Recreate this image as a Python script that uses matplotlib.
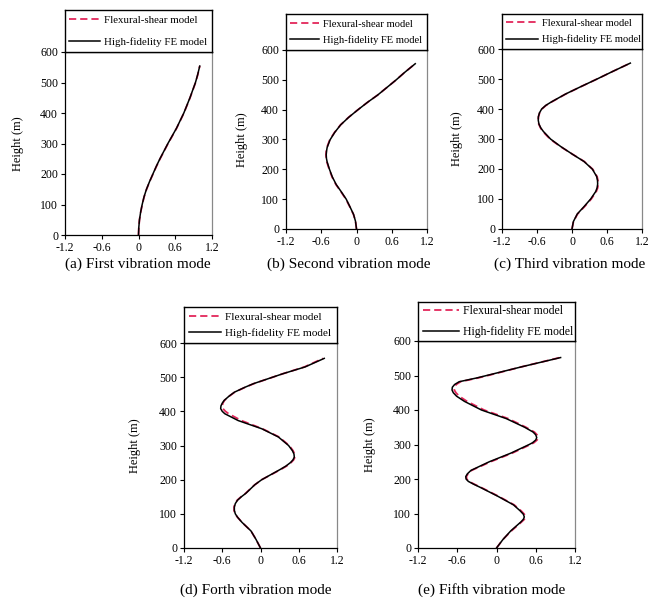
import matplotlib
matplotlib.use("Agg")
import matplotlib.pyplot as plt

plt.rcParams['font.family'] = ['Liberation Serif', 'DejaVu Serif']

# ---------------- data ----------------
x_ticks = [-1.2, -0.6, 0.0, 0.6, 1.2]
x_tick_labels = ["-1.2", "-0.6", "0", "0.6", "1.2"]
y_ticks = [0, 100, 200, 300, 400, 500, 600]
series_labels = ["Flexural-shear model", "High-fidelity FE model"]
captions = ["(a) First vibration mode", "(b) Second vibration mode",
            "(c) Third vibration mode", "(d) Forth vibration mode",
            "(e) Fifth vibration mode"]

h1 = [0, 25, 50, 75, 100, 125, 150, 175, 200, 225, 250, 275, 300, 325, 350, 375, 400, 425, 450, 475, 500, 525, 554]
fe1 = [0, 0.005, 0.016, 0.035, 0.06, 0.09, 0.13, 0.18, 0.235, 0.29, 0.35, 0.415, 0.48, 0.55, 0.62, 0.68, 0.74, 0.79, 0.84, 0.885, 0.93, 0.965, 1.0]
fs1 = [0, 0.005, 0.016, 0.036, 0.061, 0.092, 0.132, 0.182, 0.237, 0.293, 0.353, 0.418, 0.483, 0.553, 0.622, 0.682, 0.742, 0.792, 0.842, 0.887, 0.932, 0.967, 1.0]

h2 = [0, 26, 49, 74, 100, 125, 149, 174, 200, 225, 237, 249, 261, 273, 299, 324, 349, 374, 399, 425, 449, 474, 499, 525, 554]
fe2 = [0, -0.017, -0.05, -0.11, -0.175, -0.26, -0.345, -0.41, -0.46, -0.50, -0.512, -0.515, -0.51, -0.50, -0.45, -0.37, -0.27, -0.135, 0.02, 0.19, 0.36, 0.515, 0.67, 0.82, 1.0]
fs2 = [0, -0.017, -0.052, -0.113, -0.18, -0.265, -0.35, -0.415, -0.465, -0.505, -0.516, -0.52, -0.515, -0.505, -0.455, -0.373, -0.272, -0.137, 0.02, 0.19, 0.36, 0.515, 0.67, 0.82, 1.0]

h3 = [0, 24.5, 50, 74.6, 100, 124.7, 137, 150, 162, 174.8, 199.3, 225, 249.4, 275, 299.6, 325, 337, 349.7, 362, 374, 387, 400, 412, 424, 450, 474.4, 500, 524.5, 553]
fe3 = [0, 0.023, 0.09, 0.206, 0.32, 0.406, 0.43, 0.44, 0.437, 0.423, 0.35, 0.206, 0.006, -0.194, -0.366, -0.49, -0.535, -0.566, -0.578, -0.577, -0.558, -0.52, -0.45, -0.35, -0.11, 0.15, 0.43, 0.69, 1.0]
fs3 = [0, 0.025, 0.095, 0.215, 0.33, 0.416, 0.44, 0.45, 0.445, 0.43, 0.355, 0.21, 0.008, -0.2, -0.375, -0.5, -0.54, -0.57, -0.58, -0.575, -0.555, -0.515, -0.445, -0.345, -0.107, 0.152, 0.43, 0.69, 1.0]

h4 = [0, 25, 50, 75, 90, 100, 110, 120, 130, 140, 150, 160, 185, 200, 230, 240, 250, 258, 266, 275, 285, 300, 325, 349, 373, 393, 400, 408, 416, 424, 432, 445, 456, 470, 481, 510, 530, 555]
fe4 = [0, -0.07, -0.15, -0.29, -0.36, -0.395, -0.41, -0.41, -0.395, -0.36, -0.30, -0.23, -0.09, 0.02, 0.31, 0.40, 0.47, 0.51, 0.53, 0.525, 0.50, 0.44, 0.28, 0.02, -0.35, -0.56, -0.60, -0.625, -0.62, -0.60, -0.57, -0.49, -0.41, -0.25, -0.11, 0.35, 0.70, 1.0]
fs4 = [0, -0.07, -0.15, -0.29, -0.36, -0.40, -0.415, -0.415, -0.40, -0.365, -0.305, -0.235, -0.09, 0.02, 0.32, 0.41, 0.48, 0.52, 0.54, 0.535, 0.51, 0.45, 0.29, 0.03, -0.30, -0.50, -0.55, -0.59, -0.60, -0.59, -0.565, -0.485, -0.405, -0.245, -0.105, 0.35, 0.69, 0.98]

h5 = [0, 25, 50, 75, 83, 90, 98, 108, 125, 150, 175, 185, 193, 200, 207, 215, 225, 250, 275, 300, 305, 313, 320, 328, 336, 350, 375, 400, 425, 440, 450, 458, 466, 474, 482, 493, 500, 525, 552]
fe5 = [0, 0.10, 0.22, 0.37, 0.41, 0.425, 0.41, 0.36, 0.26, 0.02, -0.24, -0.35, -0.43, -0.465, -0.47, -0.445, -0.39, -0.11, 0.22, 0.50, 0.55, 0.60, 0.615, 0.60, 0.56, 0.43, 0.15, -0.23, -0.49, -0.61, -0.66, -0.68, -0.675, -0.64, -0.57, -0.30, -0.15, 0.38, 0.98]
fs5 = [0, 0.10, 0.23, 0.38, 0.425, 0.44, 0.425, 0.375, 0.27, 0.03, -0.23, -0.34, -0.42, -0.455, -0.46, -0.435, -0.38, -0.09, 0.24, 0.52, 0.57, 0.62, 0.635, 0.62, 0.58, 0.45, 0.18, -0.19, -0.45, -0.57, -0.62, -0.645, -0.645, -0.615, -0.55, -0.28, -0.13, 0.38, 0.97]

modes = [(h1, fs1, fe1), (h2, fs2, fe2), (h3, fs3, fe3), (h4, fs4, fe4), (h5, fs5, fe5)]

# ---------------- layout (pixels) ----------------
W, H = 662, 603
# (left, right, top, bottom) of axes, top of legend box
boxes = [(65, 212, 52, 235, 10), (286, 427, 50, 229, 14), (502, 642, 49, 229, 14),
         (184, 337, 343, 548, 307), (418, 575, 341, 548, 302)]
cap_pos = [(138, 264), (349, 264), (570, 264), (256, 590), (492, 590)]
ylab_x = [24, 248, 463, 141, 376]
leg_fs = [7.85, 7.55, 7.6, 8.15, 8.5]
leg_hl = [2.85, 2.75, 3.0, 2.9, 3.05]
leg_ls = [1.1, 0.6, 0.6, 0.5, 0.7]

red = '#e3265a'
fig = plt.figure(figsize=(W / 100, H / 100), dpi=100)

for i, ((l, r, t, b, lt), (h, fs, fe)) in enumerate(zip(boxes, modes)):
    ax = fig.add_axes([l / W, 1 - b / H, (r - l) / W, (b - t) / H])
    ax.plot(fs, h, color=red, lw=1.3, dashes=(4, 2.2), label=series_labels[0], zorder=2)
    ax.plot(fe, h, color='black', lw=1.1, label=series_labels[1], zorder=3)
    ax.set_xlim(-1.2, 1.2)
    ax.set_ylim(0, 600)
    ax.set_xticks(x_ticks)
    ax.set_xticklabels(x_tick_labels)
    ax.set_yticks(y_ticks)
    ax.tick_params(direction='out', length=3, width=0.8, labelsize=8.5, pad=2)
    ax.set_ylabel("Height (m)", fontsize=9)
    ax.yaxis.set_label_coords(-(l - ylab_x[i]) / (r - l), 0.5)
    for s in ax.spines.values():
        s.set_linewidth(0.9)
    ax.spines['right'].set_color('#888888')
    # legend box
    lax = fig.add_axes([l / W, 1 - t / H, (r - l) / W, (t - lt) / H])
    lax.set_xticks([])
    lax.set_yticks([])
    for s in lax.spines.values():
        s.set_linewidth(1.0)
    hs, ls = ax.get_legend_handles_labels()
    lax.legend(hs, ls, loc='center left', frameon=False, fontsize=leg_fs[i],
               handlelength=leg_hl[i], handletextpad=0.35, labelspacing=leg_ls[i],
               borderaxespad=0.3, borderpad=0.1)
    cx, cy = cap_pos[i]
    fig.text(cx / W, 1 - cy / H, captions[i], ha='center', va='center', fontsize=11)

fig.savefig("out.png", dpi=100)
